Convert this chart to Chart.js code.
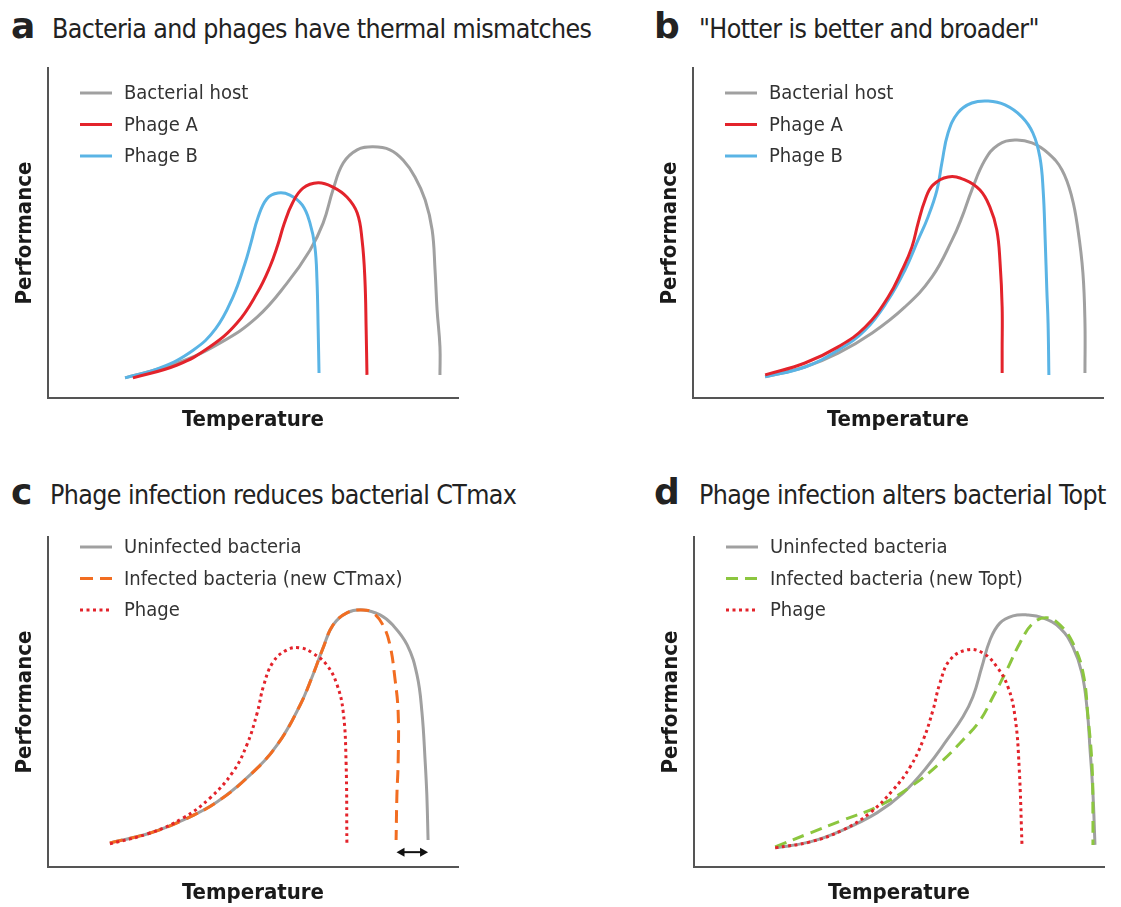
<!DOCTYPE html>
<html>
<head>
<meta charset="utf-8">
<script src="https://cdn.jsdelivr.net/npm/chart.js@4.4.0/dist/chart.umd.min.js"></script>
<style>
  html, body { margin: 0; padding: 0; background: #fff; }
  body { width: 1121px; height: 907px; position: relative; overflow: hidden;
         font-family: "DejaVu Sans Condensed", "DejaVu Sans", sans-serif; }
  .hd { position: absolute; font-size: 26.5px; line-height: 40px; color: #222; white-space: nowrap; letter-spacing: -0.6px; }
  .hd b { display: inline-block; font-size: 36px; letter-spacing: 0; font-family: "DejaVu Sans", sans-serif; }
  canvas { position: absolute; }
</style>
</head>
<body>
<div class="hd" style="left:11px; top:6px"><b style="width:41px">a</b>Bacteria and phages have thermal mismatches</div>
<div class="hd" style="left:654px; top:6px"><b style="width:45px">b</b>&quot;Hotter is better and broader&quot;</div>
<div class="hd" style="left:11px; top:472px"><b style="width:39px">c</b>Phage infection reduces bacterial CTmax</div>
<div class="hd" style="left:654px; top:472px"><b style="width:45px">d</b>Phage infection alters bacterial Topt</div>

<canvas id="chartA" width="480" height="400" style="left:0px; top:48px"></canvas>
<canvas id="chartB" width="480" height="400" style="left:645px; top:48px"></canvas>
<canvas id="chartC" width="480" height="400" style="left:0px; top:517px"></canvas>
<canvas id="chartD" width="480" height="400" style="left:646px; top:517px"></canvas>

<script>
// ---- panel a: thermal mismatches ----
const hostA_x   = [18.8, 31.5, 42.0, 51.0, 58.3, 63.9, 67.1, 69.5, 72.0, 75.4, 79.3, 83.4, 86.6, 89.5, 92.0, 93.7, 94.4, 94.9, 95.6, 95.6];
const hostA_y   = [6.1, 10.6, 16.7, 24.5, 34.8, 44.8, 53.0, 63.0, 71.2, 75.2, 76.1, 75.2, 72.1, 67.0, 60.0, 50.9, 38.8, 26.7, 15.5, 7.0];
const phageAa_x = [20.7, 31.5, 39.5, 46.1, 51.0, 54.1, 56.0, 57.6, 59.6, 62.2, 65.9, 69.5, 72.9, 75.4, 76.6, 77.3, 77.6, 77.8];
const phageAa_y = [6.1, 10.0, 15.5, 22.7, 31.8, 39.7, 46.2, 52.8, 59.0, 63.6, 65.2, 63.9, 60.9, 56.1, 47.9, 35.8, 20.6, 7.0];
const phageBa_x = [18.8, 27.3, 35.4, 40.9, 45.1, 48.0, 49.5, 51.2, 53.4, 56.1, 59.0, 62.0, 63.9, 65.1, 65.6, 65.9, 66.1];
const phageBa_y = [6.1, 9.1, 14.5, 21.0, 30.6, 40.6, 47.0, 54.6, 60.4, 62.1, 61.5, 58.5, 53.0, 45.8, 35.8, 20.6, 7.6];

// ---- panel b: hotter is better and broader ----
const hostB_x   = [17.6, 27.3, 35.4, 43.7, 51.7, 58.3, 63.2, 65.6, 68.0, 71.2, 74.4, 78.5, 82.7, 86.6, 90.0, 92.4, 93.9, 95.1, 95.6, 95.6];
const hostB_y   = [6.4, 9.4, 13.6, 19.7, 27.6, 36.7, 47.9, 54.8, 63.0, 72.1, 76.7, 78.2, 77.3, 74.2, 69.1, 60.9, 50.9, 37.9, 22.7, 7.6];
const phageAb_x = [17.6, 27.3, 35.4, 42.0, 47.6, 51.0, 53.4, 54.9, 56.6, 58.5, 62.2, 66.3, 70.0, 72.4, 74.1, 74.9, 75.4, 75.4, 75.4];
const phageAb_y = [7.0, 10.6, 15.5, 21.5, 30.6, 38.8, 45.8, 53.0, 60.0, 64.5, 67.0, 66.1, 63.0, 57.9, 50.9, 40.9, 27.6, 14.5, 7.6];
const phageBb_x = [17.6, 27.3, 35.4, 42.0, 47.6, 51.7, 54.9, 57.3, 59.5, 60.7, 62.2, 64.6, 68.0, 72.0, 76.1, 80.2, 82.9, 84.6, 85.4, 85.9, 86.3, 86.6, 86.8];
const phageBb_y = [6.4, 9.4, 14.5, 20.6, 29.7, 38.8, 47.9, 54.8, 63.0, 71.2, 80.3, 86.4, 89.4, 90.0, 88.8, 85.2, 80.3, 73.0, 63.0, 47.9, 32.7, 22.7, 7.0];

// ---- panel c: phage infection reduces CTmax ----
const uninfC_x = [15.1, 24.9, 32.9, 41.2, 49.3, 55.9, 61.5, 64.6, 67.1, 69.5, 72.9, 76.8, 81.0, 84.1, 87.6, 90.0, 91.2, 92.0, 92.4, 92.7];
const uninfC_y = [7.3, 10.3, 14.2, 19.7, 27.9, 37.0, 49.1, 58.2, 66.4, 73.3, 77.0, 77.9, 76.4, 73.3, 67.3, 58.2, 47.0, 31.8, 21.8, 8.2];
const infC_x   = [15.1, 24.9, 32.9, 41.2, 49.3, 55.9, 61.5, 64.6, 67.1, 69.5, 72.9, 76.8, 79.3, 81.7, 83.4, 84.6, 85.4, 85.4, 85.1, 84.9];
const infC_y   = [7.3, 10.3, 14.2, 19.7, 27.9, 37.0, 49.1, 58.2, 66.4, 73.3, 77.0, 77.9, 77.0, 73.3, 67.3, 57.3, 47.0, 31.8, 21.8, 8.2];
const phageC_x = [15.1, 24.9, 32.9, 39.5, 45.1, 48.5, 51.0, 52.6, 54.9, 58.3, 61.5, 64.6, 68.0, 70.5, 72.0, 72.7, 72.9];
const phageC_y = [7.0, 10.3, 14.8, 20.9, 28.8, 37.0, 46.6, 55.0, 62.1, 65.8, 66.4, 64.8, 61.2, 55.2, 47.0, 31.8, 7.3];
const ctmaxShift = [85.0, 92.7];   // new CTmax -> original CTmax
const shiftLevel = 4.5;

// ---- panel d: phage infection alters Topt ----
const uninfD_x = [19.8, 28.3, 36.3, 44.6, 51.0, 56.8, 61.7, 65.6, 68.0, 70.2, 72.2, 74.6, 77.8, 81.2, 85.1, 89.3, 92.4, 94.6, 95.9, 96.6, 97.3, 97.8];
const uninfD_y = [5.8, 7.6, 11.2, 16.4, 22.4, 30.3, 38.5, 45.5, 51.5, 60.6, 68.8, 73.9, 76.1, 76.4, 75.5, 72.4, 66.7, 58.8, 47.6, 35.5, 22.4, 6.7];
const infD_x   = [19.8, 28.3, 36.3, 44.6, 52.7, 60.0, 65.6, 69.8, 72.9, 76.3, 79.5, 82.7, 86.1, 89.3, 92.4, 94.9, 96.1, 97.1, 97.3, 97.3];
const infD_y   = [6.1, 10.3, 14.2, 18.2, 24.2, 31.5, 38.5, 44.5, 51.5, 59.7, 67.9, 73.9, 75.5, 73.3, 67.9, 58.8, 45.5, 30.3, 15.2, 6.7];
const phageD_x = [19.8, 28.3, 36.3, 42.9, 48.5, 52.7, 55.9, 58.3, 60.0, 62.4, 66.6, 70.5, 73.9, 76.6, 78.3, 79.3, 80.0];
const phageD_y = [5.8, 7.6, 11.2, 16.4, 23.3, 30.3, 38.5, 47.6, 55.8, 62.7, 65.8, 64.8, 60.6, 54.5, 45.5, 30.3, 6.7];

const GREY = '#a0a0a0', RED = '#e3232b', BLUE = '#5ab4e5', ORANGE = '#f26d21', GREEN = '#8cc63f';
const FONT = '"DejaVu Sans Condensed", "DejaVu Sans", sans-serif';

function pts(xs, ys) {
  return xs.map((x, i) => ({ x: x, y: ys[i] }));
}

function line(label, xs, ys, color, order, dash) {
  return {
    label: label,
    data: pts(xs, ys),
    showLine: true,
    borderColor: color,
    borderWidth: 3,
    borderDash: dash || [],
    pointRadius: 0,
    tension: 0.42,
    order: order
  };
}

// legend drawn inside the plot area, top-left
const insideLegend = {
  id: 'insideLegend',
  afterDraw(chart, args, opts) {
    const { ctx, chartArea } = chart;
    ctx.save();
    chart.data.datasets.forEach((ds, i) => {
      const y = chartArea.top + opts.top + i * 31.5;
      const x0 = chartArea.left + 32;
      ctx.beginPath();
      ctx.strokeStyle = ds.borderColor;
      ctx.lineWidth = 3;
      ctx.setLineDash(ds.borderDash);
      ctx.moveTo(x0, y);
      ctx.lineTo(x0 + 32, y);
      ctx.stroke();
      ctx.setLineDash([]);
      ctx.fillStyle = '#333';
      ctx.font = '20px ' + FONT;
      ctx.textBaseline = 'middle';
      ctx.fillText(ds.label, x0 + 44, y + 1);
    });
    ctx.restore();
  }
};

// double arrow between the two CTmax values in panel c
const shiftArrow = {
  id: 'shiftArrow',
  afterDatasetsDraw(chart) {
    const { ctx, scales } = chart;
    const x1 = scales.x.getPixelForValue(ctmaxShift[0]);
    const x2 = scales.x.getPixelForValue(ctmaxShift[1]);
    const y = scales.y.getPixelForValue(shiftLevel);
    ctx.save();
    ctx.strokeStyle = '#111';
    ctx.fillStyle = '#111';
    ctx.lineWidth = 2;
    ctx.beginPath();
    ctx.moveTo(x1 + 4, y);
    ctx.lineTo(x2 - 4, y);
    ctx.stroke();
    [[x1, 1], [x2, -1]].forEach(([x, d]) => {
      ctx.beginPath();
      ctx.moveTo(x, y);
      ctx.lineTo(x + 8 * d, y - 4.5);
      ctx.lineTo(x + 8 * d, y + 4.5);
      ctx.closePath();
      ctx.fill();
    });
    ctx.restore();
  }
};

function makeChart(id, datasets, legendTop, gap, extra) {
  const axisTitle = (text, padding) => ({
    display: true, text: text, color: '#1a1a1a', padding: padding,
    font: { family: FONT, size: 22, weight: 'bold' }
  });
  return new Chart(document.getElementById(id), {
    type: 'scatter',
    data: { datasets: datasets },
    options: {
      responsive: false,
      animation: false,
      events: [],
      layout: { padding: { left: 7.8, top: 20, right: 22, bottom: 19.6 - gap } },
      scales: {
        x: {
          min: 0, max: 100,
          ticks: { display: false },
          grid: { display: false, drawTicks: false },
          border: { color: '#555', width: 2 },
          title: axisTitle('Temperature', { top: gap, bottom: 4 })
        },
        y: {
          min: 0, max: 100,
          ticks: { display: false },
          grid: { display: false, drawTicks: false },
          border: { color: '#555', width: 2 },
          title: axisTitle('Performance', { top: 4, bottom: 9.8 })
        }
      },
      plugins: {
        legend: { display: false },
        tooltip: { enabled: false },
        insideLegend: { top: legendTop }
      }
    },
    plugins: [insideLegend].concat(extra || [])
  });
}

makeChart('chartA', [
  line('Bacterial host', hostA_x, hostA_y, GREY, 2),
  line('Phage A', phageAa_x, phageAa_y, RED, 0),
  line('Phage B', phageBa_x, phageBa_y, BLUE, 1)
], 25, 8.8);

makeChart('chartB', [
  line('Bacterial host', hostB_x, hostB_y, GREY, 2),
  line('Phage A', phageAb_x, phageAb_y, RED, 0),
  line('Phage B', phageBb_x, phageBb_y, BLUE, 1)
], 25, 8.8);

makeChart('chartC', [
  line('Uninfected bacteria', uninfC_x, uninfC_y, GREY, 2),
  line('Infected bacteria (new CTmax)', infC_x, infC_y, ORANGE, 1, [13, 7]),
  line('Phage', phageC_x, phageC_y, RED, 0, [3, 3.5])
], 10, 12.8, [shiftArrow]);

makeChart('chartD', [
  line('Uninfected bacteria', uninfD_x, uninfD_y, GREY, 2),
  line('Infected bacteria (new Topt)', infD_x, infD_y, GREEN, 1, [12, 7]),
  line('Phage', phageD_x, phageD_y, RED, 0, [3, 3.5])
], 10, 12.8);
</script>
</body>
</html>
